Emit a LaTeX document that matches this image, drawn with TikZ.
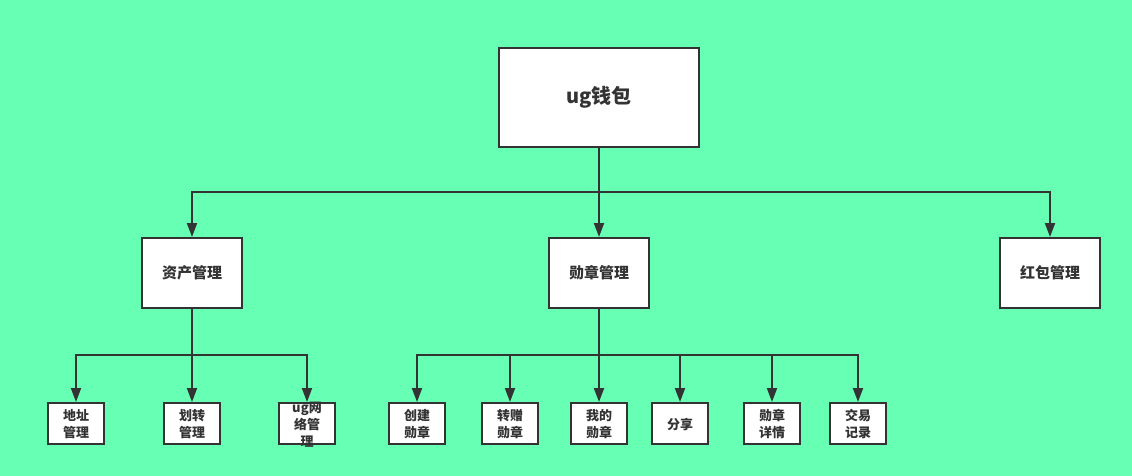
\documentclass[tikz,border=0pt]{standalone}
\usepackage{fontspec}
\newfontfamily\cjk{Noto Sans CJK SC}
\usetikzlibrary{arrows.meta}
\definecolor{bggreen}{RGB}{102,255,179}
\definecolor{ink}{RGB}{51,51,51}
\newcommand{\leaftext}[1]{\smash{\raisebox{-5.5pt}{\begin{tabular}{@{}c@{}}#1\end{tabular}}}}
\tikzset{
  box/.style={draw=ink, line width=2pt, fill=white, inner sep=0pt, text=ink, font=\cjk\bfseries},
  rootbox/.style={box, minimum width=200pt, minimum height=99pt, font=\cjk\bfseries\fontsize{20}{24}\selectfont},
  midbox/.style={box, minimum width=100pt, minimum height=70pt, font=\cjk\bfseries\fontsize{15}{18}\selectfont},
  leafbox/.style={box, minimum width=56pt, minimum height=41pt, font=\cjk\bfseries\fontsize{13}{17}\selectfont},
  arr/.style={draw=ink, line width=2pt, -{Triangle[length=14pt,width=10pt]}}
}
\begin{document}
\begin{tikzpicture}[x=1pt,y=-1pt]
    % background
    \fill[bggreen] (0,0) rectangle (1132,476);
    \useasboundingbox (0,0) rectangle (1132,476);
    % top
    \node[rootbox] (wallet) at (599,97.5) {\raisebox{-3pt}{ug钱包}};
    \node[midbox] (asset) at (192,273) {资产管理};
    \node[midbox] (medal) at (599,273) {勋章管理};
    \node[midbox] (redpack) at (1050,273) {红包管理};
    \coordinate (busA) at (599,192);
    \foreach \n in {asset,medal,redpack} {
        \draw[arr] (wallet.south) -- (busA) -| (\n.north);
    }
    % asset leaves
    \coordinate (busB) at (192,355);
    \foreach \x/\n/\t in {76/addr/地址\\管理, 192/transfer/划转\\管理, 307/network/ug网\\络管\\理} {
        \node[leafbox] (\n) at (\x,423.5) {\leaftext{\t}};
        \draw[arr] (asset.south) -- (busB) -| (\n.north);
    }
    % medal leaves
    \coordinate (busC) at (599,355);
    \foreach \x/\n/\t in {417/create/创建\\勋章, 510/give/转赠\\勋章, 599/mine/我的\\勋章, 680/share/分享, 772/detail/勋章\\详情, 858/trade/交易\\记录} {
        \node[leafbox] (\n) at (\x,423.5) {\leaftext{\t}};
        \draw[arr] (medal.south) -- (busC) -| (\n.north);
    }
\end{tikzpicture}
\end{document}
